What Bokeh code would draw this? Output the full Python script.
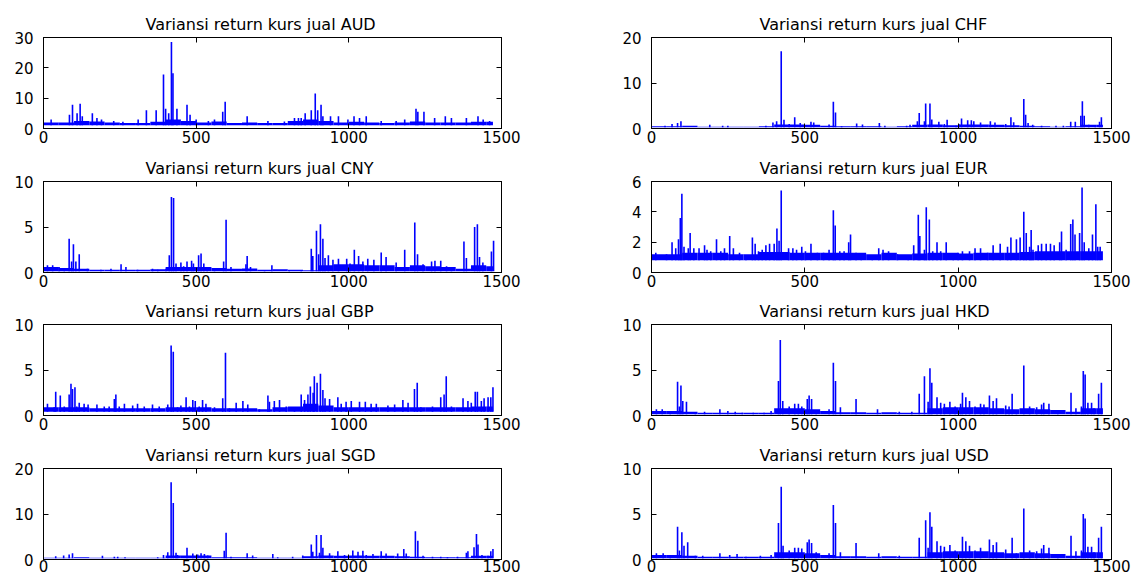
from bokeh.plotting import figure
from bokeh.models import Range1d, LinearAxis, FixedTicker
from bokeh.layouts import column, row
from bokeh.embed import file_html
from bokeh.resources import INLINE

# ---------------- data ----------------
band_edges = [1, 50, 100, 150, 200, 250, 300, 350, 400, 450, 500, 550, 600, 650, 700,
              750, 800, 850, 900, 950, 1000, 1050, 1100, 1150, 1200, 1250, 1300, 1350,
              1400, 1450, 1472]

aud_floor = 1.1
aud_band = [2.0, 2.0, 2.5, 2.3, 2.0, 1.8, 1.8, 2.2, 3.0, 2.5, 2.0, 2.3, 1.8, 2.0, 1.8,
            1.8, 2.5, 3.0, 2.5, 2.0, 2.2, 2.0, 1.8, 2.0, 2.3, 2.0, 2.0, 2.0, 2.2, 2.2]
aud_x = [25, 85, 95, 110, 120, 127, 160, 175, 190, 230, 260, 310, 337, 369, 393, 400, 410,
         419, 424, 437, 470, 480, 500, 540, 560, 587, 595, 667, 735, 789, 822, 835, 844,
         857, 877, 890, 898, 909, 915, 940, 966, 997, 1017, 1035, 1057, 1106, 1155, 1183,
         1220, 1226, 1246, 1281, 1316, 1336, 1385, 1423, 1440, 1461]
aud_y = [3.0, 4.5, 7.8, 5.0, 8.2, 4.0, 5.0, 3.5, 3.0, 2.5, 2.2, 3.0, 6.0, 6.0, 17.8, 6.5,
         5.0, 28.5, 18.2, 6.5, 7.8, 4.5, 3.0, 2.5, 3.0, 5.5, 8.8, 4.0, 2.5, 2.3, 3.5, 3.5,
         3.5, 5.0, 6.0, 11.5, 6.0, 7.8, 4.0, 4.0, 4.0, 3.0, 4.0, 3.5, 4.0, 2.5, 2.5, 3.0,
         6.5, 5.5, 5.5, 3.5, 4.0, 3.5, 3.5, 4.0, 3.0, 2.5]

chf_floor = 0.3
chf_band = [0.5, 0.5, 0.6, 0.4, 0.4, 0.4, 0.4, 0.5, 0.9, 0.9, 0.8, 0.6, 0.5, 0.5, 0.5,
            0.4, 0.5, 0.8, 0.9, 0.7, 0.9, 0.9, 0.8, 0.7, 0.6, 0.5, 0.4, 0.5, 0.8, 0.8]
chf_x = [44, 67, 85, 96, 190, 232, 249, 373, 396, 408, 423, 432, 449, 467, 485, 520, 529,
         579, 593, 600, 620, 669, 688, 743, 761, 832, 843, 867, 873, 890, 894, 908, 914,
         937, 955, 964, 993, 1002, 1011, 1031, 1043, 1051, 1073, 1105, 1120, 1155, 1172,
         1181, 1214, 1220, 1228, 1243, 1272, 1319, 1343, 1367, 1382, 1400, 1405, 1411,
         1426, 1447, 1461, 1467]
chf_y = [0.6, 1.0, 1.2, 1.6, 0.8, 0.6, 0.6, 0.6, 1.3, 1.6, 17.0, 1.9, 1.0, 2.5, 1.2, 1.5,
         1.3, 0.9, 5.9, 3.5, 0.5, 1.1, 0.9, 1.2, 0.6, 0.6, 0.8, 1.6, 3.4, 1.6, 5.5, 5.5,
         2.0, 1.5, 1.0, 1.9, 0.6, 1.0, 2.2, 1.8, 1.8, 1.6, 1.3, 1.6, 1.3, 1.0, 2.5, 1.4,
         6.5, 3.0, 1.2, 0.8, 0.6, 0.6, 0.6, 1.5, 1.5, 2.8, 6.0, 2.8, 0.8, 0.6, 1.5, 2.5]

cny_floor = 0.15
cny_band = [0.6, 0.5, 0.4, 0.3, 0.3, 0.3, 0.3, 0.35, 0.6, 0.6, 0.6, 0.5, 0.4, 0.45, 0.3,
            0.35, 0.3, 0.25, 0.8, 0.9, 0.9, 0.8, 0.8, 0.6, 0.8, 0.7, 0.6, 0.4, 0.8, 0.7]
cny_x = [13, 30, 51, 68, 84, 92, 98, 106, 117, 144, 188, 221, 254, 270, 308, 357, 374, 401,
         412, 419, 426, 434, 450, 459, 470, 485, 491, 508, 516, 525, 536, 560, 590, 598,
         614, 663, 667, 678, 724, 748, 805, 844, 877, 882, 894, 901, 907, 915, 922, 933,
         948, 966, 993, 1004, 1018, 1032, 1046, 1062, 1082, 1106, 1122, 1155, 1183, 1216,
         1225, 1243, 1271, 1282, 1301, 1320, 1336, 1377, 1385, 1412, 1421, 1428, 1439,
         1467, 1474]
cny_y = [0.8, 0.8, 0.6, 0.4, 3.7, 1.2, 3.1, 1.2, 2.0, 0.4, 0.3, 0.4, 0.9, 0.6, 0.3, 0.4,
         0.3, 0.4, 1.9, 8.3, 8.2, 1.0, 1.1, 0.7, 1.2, 1.3, 1.0, 1.9, 2.1, 1.0, 0.6, 0.4,
         1.2, 5.8, 0.6, 0.9, 1.8, 0.6, 0.2, 0.8, 0.2, 0.2, 2.6, 1.8, 4.6, 2.0, 5.3, 3.7,
         1.6, 1.9, 1.4, 1.5, 1.5, 1.0, 2.5, 1.8, 1.2, 1.5, 1.4, 2.2, 1.7, 1.1, 2.5, 5.5,
         2.0, 0.9, 1.2, 1.3, 1.3, 0.7, 0.4, 3.4, 1.6, 5.0, 5.3, 1.7, 1.1, 2.3, 3.5]

eur_floor = 0.8
eur_band = [1.2, 1.2, 1.3, 1.3, 1.3, 1.2, 1.2, 1.35, 1.35, 1.3, 1.3, 1.3, 1.3, 1.3, 1.2,
            1.3, 1.2, 1.25, 1.3, 1.3, 1.25, 1.3, 1.3, 1.3, 1.35, 1.4, 1.4, 1.4, 1.4, 1.4]
eur_x = [14, 49, 67, 79, 88, 94, 99, 106, 120, 126, 138, 155, 173, 181, 193, 212, 226, 238,
         255, 267, 287, 308, 329, 338, 349, 361, 373, 385, 400, 409, 416, 423, 447, 461,
         473, 490, 502, 520, 541, 561, 579, 593, 599, 614, 628, 643, 649, 667, 684, 720,
         741, 755, 773, 802, 837, 855, 870, 875, 890, 896, 906, 917, 931, 943, 961, 984,
         1000, 1014, 1037, 1055, 1073, 1096, 1114, 1137, 1161, 1172, 1190, 1202, 1214,
         1222, 1233, 1238, 1244, 1261, 1272, 1287, 1301, 1313, 1331, 1337, 1352, 1367,
         1374, 1381, 1396, 1404, 1411, 1426, 1438, 1449, 1455, 1463]
eur_y = [1.3, 1.2, 2.0, 1.6, 2.2, 3.6, 5.2, 1.7, 1.6, 2.6, 1.6, 1.6, 1.8, 1.5, 1.4, 2.2,
         1.4, 1.6, 2.4, 1.6, 1.3, 1.0, 2.3, 1.9, 1.4, 1.5, 1.8, 1.9, 1.9, 2.9, 2.1, 5.4,
         1.6, 1.6, 1.5, 1.7, 1.4, 1.9, 1.3, 1.3, 1.5, 4.1, 3.1, 1.4, 1.4, 2.0, 2.5, 1.3,
         1.2, 0.9, 1.6, 1.5, 1.4, 1.2, 1.1, 1.8, 3.8, 2.4, 1.5, 4.3, 3.5, 1.4, 2.0, 1.4,
         2.0, 1.2, 1.3, 1.4, 1.4, 1.6, 1.6, 1.3, 1.8, 1.9, 1.7, 2.3, 2.2, 2.3, 4.0, 2.6,
         1.7, 2.8, 1.5, 1.8, 1.9, 1.9, 1.9, 1.8, 2.0, 2.7, 1.5, 3.2, 3.5, 2.5, 2.6, 5.6,
         2.0, 1.6, 2.5, 4.5, 1.7, 1.7]

gbp_floor = 0.4
gbp_band = [0.9, 0.9, 0.9, 0.8, 0.8, 0.8, 0.8, 0.8, 0.9, 0.9, 0.9, 0.8, 0.8, 0.8, 0.7,
            0.9, 1.0, 1.3, 1.1, 0.9, 0.9, 0.9, 0.9, 0.9, 0.9, 0.9, 0.9, 0.9, 1.0, 1.0]
gbp_x = [13, 35, 40, 55, 68, 84, 90, 95, 103, 109, 117, 133, 146, 175, 199, 215, 232, 237,
         248, 265, 292, 308, 330, 357, 379, 407, 418, 425, 439, 450, 467, 478, 489, 497,
         510, 521, 532, 560, 587, 596, 609, 631, 653, 669, 707, 735, 740, 756, 773, 795,
         822, 844, 855, 866, 874, 883, 887, 896, 907, 915, 922, 937, 964, 975, 991, 1008,
         1035, 1054, 1073, 1090, 1128, 1150, 1177, 1194, 1215, 1224, 1236, 1274, 1301,
         1312, 1319, 1336, 1374, 1390, 1401, 1414, 1421, 1434, 1443, 1456, 1465, 1472]
gbp_y = [1.3, 0.9, 2.6, 2.2, 1.0, 2.3, 3.5, 2.9, 3.1, 1.0, 1.4, 1.3, 1.2, 1.2, 1.0, 1.0,
         1.8, 2.3, 1.0, 1.3, 1.1, 1.3, 1.0, 1.2, 1.0, 1.2, 7.7, 7.0, 0.9, 1.1, 2.0, 1.0,
         1.7, 1.6, 1.0, 1.7, 1.3, 0.9, 1.9, 6.9, 0.8, 1.4, 1.6, 1.2, 0.7, 2.2, 1.5, 1.6,
         1.7, 1.0, 0.9, 2.3, 1.7, 2.3, 3.2, 2.5, 4.3, 3.6, 4.6, 2.8, 1.9, 1.8, 2.0, 1.3,
         1.5, 1.6, 1.5, 1.5, 1.3, 1.3, 1.1, 1.2, 1.7, 1.4, 2.9, 3.6, 0.9, 1.0, 2.0, 2.3,
         4.3, 1.0, 1.9, 1.6, 1.4, 2.6, 2.6, 1.6, 1.9, 2.0, 2.0, 3.1]

hkd_floor = 0.15
hkd_band = [0.5, 0.5, 0.4, 0.3, 0.3, 0.3, 0.3, 0.3, 0.8, 0.8, 0.7, 0.5, 0.35, 0.35, 0.3,
            0.35, 0.3, 0.3, 0.8, 0.9, 0.9, 0.9, 0.8, 0.7, 0.8, 0.7, 0.6, 0.4, 0.8, 0.8]
hkd_x = [16, 35, 61, 85, 91, 96, 102, 114, 143, 173, 223, 249, 273, 296, 332, 367, 390,
         414, 420, 428, 449, 467, 479, 490, 508, 514, 522, 537, 579, 593, 600, 616, 667,
         737, 808, 849, 873, 890, 902, 908, 914, 931, 943, 955, 973, 990, 1008, 1014,
         1025, 1037, 1055, 1073, 1084, 1102, 1114, 1125, 1155, 1166, 1176, 1190, 1214,
         1233, 1256, 1272, 1279, 1296, 1325, 1368, 1384, 1402, 1408, 1414, 1423, 1435,
         1443, 1458, 1467]
hkd_y = [0.7, 0.7, 0.5, 3.7, 1.0, 3.3, 1.6, 1.5, 0.3, 0.4, 0.7, 0.5, 0.4, 0.3, 0.3, 0.3,
         0.5, 3.8, 8.3, 1.6, 1.0, 1.3, 1.3, 1.0, 1.8, 2.2, 1.8, 0.6, 0.7, 5.8, 3.8, 0.9,
         1.8, 0.7, 0.4, 0.4, 2.4, 4.3, 1.5, 5.2, 3.6, 2.0, 1.4, 1.3, 1.5, 1.0, 1.3, 2.5,
         2.0, 1.6, 1.0, 1.3, 1.2, 2.2, 1.6, 1.9, 1.1, 1.0, 2.4, 0.6, 5.5, 1.0, 0.9, 1.2,
         1.4, 1.3, 0.4, 2.5, 0.8, 1.0, 4.9, 4.5, 1.4, 1.4, 0.8, 2.4, 3.6]

sgd_floor = 0.3
sgd_band = [0.4, 0.4, 0.5, 0.4, 0.4, 0.4, 0.4, 0.4, 0.9, 0.9, 0.9, 0.5, 0.5, 0.5, 0.4,
            0.4, 0.4, 0.7, 0.9, 0.8, 0.9, 0.8, 0.8, 0.7, 0.6, 0.5, 0.5, 0.5, 0.8, 0.8]
sgd_x = [40, 66, 84, 95, 193, 232, 243, 267, 374, 393, 407, 418, 425, 434, 439, 470, 489,
         505, 516, 527, 538, 592, 598, 614, 667, 685, 751, 767, 816, 849, 877, 882, 894,
         904, 909, 915, 937, 964, 986, 1013, 1030, 1046, 1057, 1079, 1106, 1122, 1160,
         1180, 1188, 1218, 1226, 1243, 1274, 1301, 1323, 1356, 1385, 1390, 1410, 1418,
         1423, 1436, 1456, 1465, 1472]
sgd_y = [0.7, 0.9, 1.1, 1.4, 0.8, 0.6, 0.6, 0.5, 0.5, 1.0, 1.6, 17.0, 12.4, 1.5, 1.0, 2.6,
         1.3, 1.1, 1.4, 1.2, 0.9, 1.9, 5.9, 0.6, 1.4, 0.9, 1.2, 0.5, 0.6, 0.9, 3.3, 1.7,
         5.4, 1.5, 5.4, 2.6, 1.4, 1.8, 1.0, 2.0, 1.7, 1.9, 1.0, 1.2, 1.8, 1.3, 1.3, 2.3,
         1.3, 6.2, 4.1, 0.8, 0.6, 0.6, 0.5, 0.6, 1.5, 1.8, 2.7, 5.6, 3.3, 1.0, 0.8, 1.8, 2.3]

usd_floor = 0.15
usd_band = [0.5, 0.5, 0.4, 0.3, 0.3, 0.3, 0.3, 0.3, 0.8, 0.8, 0.7, 0.5, 0.35, 0.35, 0.3,
            0.35, 0.3, 0.3, 0.8, 0.9, 0.9, 0.9, 0.8, 0.7, 0.8, 0.7, 0.6, 0.4, 0.8, 0.8]
usd_x = [16, 38, 61, 85, 91, 99, 106, 118, 143, 167, 223, 255, 279, 308, 355, 390, 414,
         423, 429, 449, 467, 479, 490, 508, 514, 522, 537, 579, 593, 600, 616, 667, 741,
         808, 873, 894, 902, 908, 914, 931, 943, 955, 973, 990, 1014, 1025, 1037, 1055,
         1073, 1102, 1114, 1125, 1155, 1176, 1190, 1214, 1233, 1256, 1272, 1279, 1296,
         1325, 1368, 1384, 1402, 1408, 1414, 1423, 1435, 1443, 1458, 1467]
usd_y = [0.7, 0.7, 0.5, 3.6, 1.0, 3.0, 1.5, 1.9, 0.4, 0.4, 0.7, 0.5, 0.6, 0.3, 0.4, 0.5,
         4.0, 8.0, 1.5, 1.0, 1.3, 1.3, 1.2, 1.9, 2.2, 1.8, 0.8, 0.7, 6.0, 4.0, 0.8, 1.8,
         0.7, 0.4, 2.4, 4.3, 1.3, 5.2, 3.6, 2.0, 1.5, 1.4, 1.6, 1.0, 2.5, 2.0, 1.5, 1.0,
         1.3, 2.2, 1.6, 1.9, 1.1, 2.4, 0.7, 5.6, 1.0, 0.9, 1.2, 1.6, 1.3, 0.4, 2.6, 0.9,
         1.0, 5.0, 4.5, 1.4, 1.4, 0.8, 2.4, 3.6]

x_ticks = [0, 500, 1000, 1500]
titles = ["Variansi return kurs jual AUD", "Variansi return kurs jual CHF",
          "Variansi return kurs jual CNY", "Variansi return kurs jual EUR",
          "Variansi return kurs jual GBP", "Variansi return kurs jual HKD",
          "Variansi return kurs jual SGD", "Variansi return kurs jual USD"]
y_ticks = [[0, 10, 20, 30], [0, 10, 20], [0, 5, 10], [0, 2, 4, 6],
           [0, 5, 10], [0, 5, 10], [0, 10, 20], [0, 5, 10]]

series = [(aud_x, aud_y, aud_floor, aud_band), (chf_x, chf_y, chf_floor, chf_band),
          (cny_x, cny_y, cny_floor, cny_band), (eur_x, eur_y, eur_floor, eur_band),
          (gbp_x, gbp_y, gbp_floor, gbp_band), (hkd_x, hkd_y, hkd_floor, hkd_band),
          (sgd_x, sgd_y, sgd_floor, sgd_band), (usd_x, usd_y, usd_floor, usd_band)]

# ---------------- layout ----------------
FONT = "DejaVu Sans"
BLUE = "#0000ff"
COL_W = [523, 613]
COL_BL = [43, 128]
COL_BR = [22, 25]
COL_TITLE_OFF = [102, 108]
ROW_H = [152, 143, 144, 137]
ROW_BT = [37, 29, 29, 29]
ROW_BB = [24, 23, 24, 17]
ROW_XS = [2, 2, 2, 0]


def style_axis(ax, labels=True, standoff=3):
    ax.axis_line_color = "black"
    ax.axis_line_width = 1
    ax.major_tick_in = 5
    ax.major_tick_out = 0
    ax.major_tick_line_color = "black"
    ax.minor_tick_line_color = None
    ax.major_label_text_font = FONT
    if labels:
        ax.major_label_text_color = "black"
        ax.major_label_text_font_size = "15px"
        ax.major_label_standoff = standoff
    else:
        ax.major_label_text_color = None
        ax.major_label_text_font_size = "0px"
        ax.major_label_standoff = 0


def make_panel(i):
    r, c = divmod(i, 2)
    xs, ys, floor, band = series[i]
    ymax = y_ticks[i][-1]
    p = figure(width=COL_W[c], height=ROW_H[r],
               x_range=Range1d(0, 1500), y_range=Range1d(0, ymax),
               x_axis_type=None, y_axis_type=None,
               output_backend="svg", toolbar_location=None,
               min_border_left=COL_BL[c], min_border_right=COL_BR[c],
               min_border_top=ROW_BT[r], min_border_bottom=ROW_BB[r],
               title=titles[i])
    p.title.text_font = FONT
    p.title.text_font_size = "16px"
    p.title.text_font_style = "normal"
    p.title.text_color = "black"
    p.title.align = "left"
    p.title.offset = COL_TITLE_OFF[c]
    p.title.standoff = 8
    p.grid.visible = False
    p.outline_line_color = "black"
    p.outline_line_width = 1
    p.background_fill_color = "white"
    p.border_fill_color = "white"

    bx = LinearAxis(ticker=FixedTicker(ticks=x_ticks))
    style_axis(bx, True, ROW_XS[r])
    p.add_layout(bx, "below")
    ly = LinearAxis(ticker=FixedTicker(ticks=y_ticks[i]))
    style_axis(ly, True, 10)
    p.add_layout(ly, "left")
    tx = LinearAxis(ticker=FixedTicker(ticks=x_ticks))
    style_axis(tx, False)
    p.add_layout(tx, "above")
    ry = LinearAxis(ticker=FixedTicker(ticks=y_ticks[i]))
    style_axis(ry, False)
    p.add_layout(ry, "right")

    # dense band of the series near its floor
    p.quad(left=band_edges[:-1], right=band_edges[1:],
           bottom=[floor] * len(band), top=band,
           fill_color=BLUE, line_color=None)
    # spikes
    p.segment(x0=xs, y0=[floor] * len(xs), x1=xs, y1=ys,
              line_color=BLUE, line_width=1.6)
    return p


panels = [make_panel(i) for i in range(8)]
layout = column([row(panels[2 * r], panels[2 * r + 1]) for r in range(4)])

open("out.html", "w").write(file_html(layout, INLINE, title="Variansi return kurs jual"))
